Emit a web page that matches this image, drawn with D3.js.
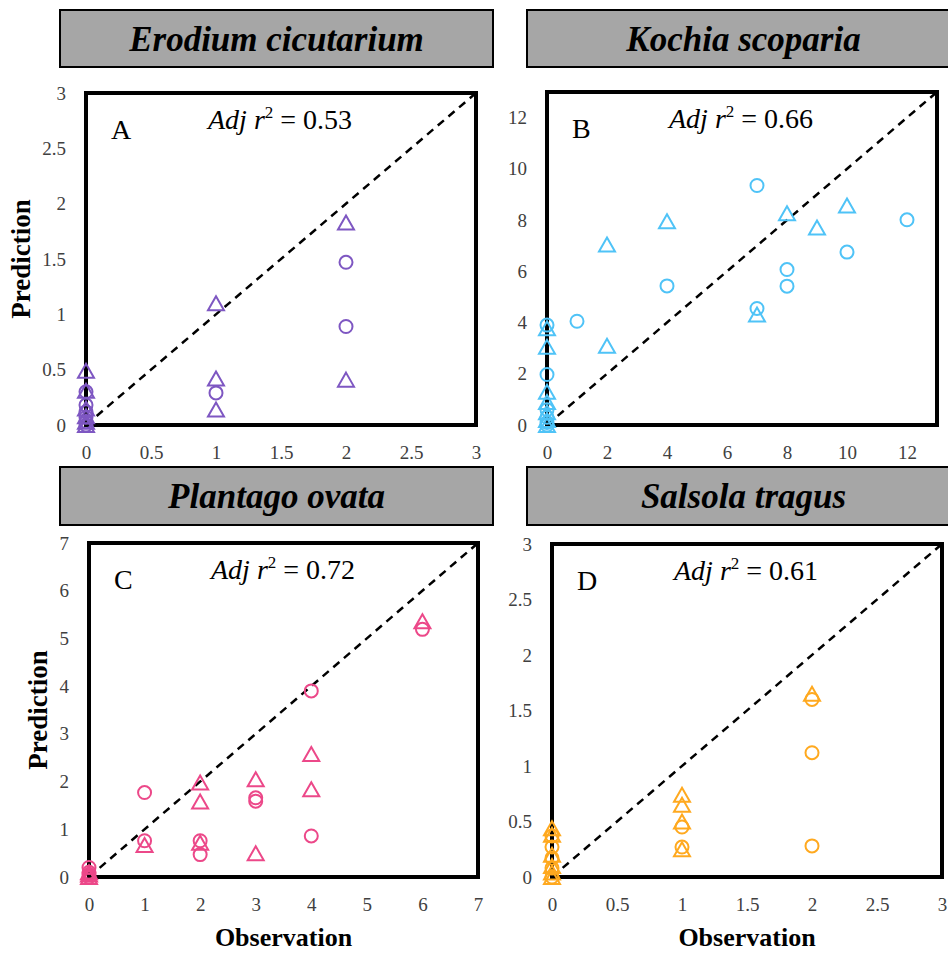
<!DOCTYPE html>
<html>
<head>
<meta charset="utf-8">
<script src="https://cdn.jsdelivr.net/npm/d3@7"></script>
<style>
  body { margin: 0; background: #fff; }
  svg { display: block; }
</style>
</head>
<body>
<svg id="chart" width="948" height="955"></svg>
<script>
// observed vs predicted, [observation, prediction]
var erodiumCircles = [[2, 1.47], [2, 0.89], [1, 0.29], [0, 0.30], [0, 0.18], [0, 0.12], [0, 0.07], [0, 0.03], [0, 0]]
var erodiumTriangles = [[2, 1.83], [2, 0.41], [1, 1.10], [1, 0.42], [1, 0.14], [0, 0.49], [0, 0.31], [0, 0.15], [0, 0.08], [0, 0.03], [0, 0]]

var kochiaCircles = [[7, 9.35], [12, 8.01], [10, 6.75], [8, 6.07], [8, 5.42], [4, 5.43], [7, 4.55], [1, 4.05],
                     [0, 3.9], [0, 1.97], [0, 0.6], [0, 0.3], [0, 0.1], [0, 0]]
var kochiaTriangles = [[4, 7.95], [2, 7.05], [8, 8.27], [10, 8.57], [9, 7.71], [7, 4.31], [2, 3.09],
                       [0, 3.78], [0, 3.05], [0, 1.3], [0, 0.9], [0, 0.5], [0, 0.2], [0, 0]]

var plantagoCircles = [[6, 5.19], [4, 3.9], [4, 0.86], [3, 1.66], [3, 1.59], [2, 0.76], [2, 0.47], [1, 1.77], [1, 0.76],
                       [0, 0.2], [0, 0.1], [0, 0.05], [0, 0]]
var plantagoTriangles = [[6, 5.36], [4, 2.58], [4, 1.84], [3, 2.05], [3, 0.5], [2, 1.98], [2, 1.58], [2, 0.72], [1, 0.67],
                         [0, 0.1], [0, 0.05], [0, 0]]

var salsolaCircles = [[2, 1.60], [2, 1.12], [2, 0.28], [1, 0.45], [1, 0.27], [0, 0.37], [0, 0.27], [0, 0.17], [0, 0.08], [0, 0]]
var salsolaTriangles = [[2, 1.65], [1, 0.74], [1, 0.65], [1, 0.50], [1, 0.25], [0, 0.44], [0, 0.38], [0, 0.2], [0, 0.1], [0, 0.04], [0, 0]]

var speciesNames = ["Erodium cicutarium", "Kochia scoparia", "Plantago ovata", "Salsola tragus"]
var panelLetters = ["A", "B", "C", "D"]
var adjR2 = ["0.53", "0.66", "0.72", "0.61"]
var axisMax = [3, 13, 7, 3]
var tickValues = [
  [0, 0.5, 1, 1.5, 2, 2.5, 3],
  [0, 2, 4, 6, 8, 10, 12],
  [0, 1, 2, 3, 4, 5, 6, 7],
  [0, 0.5, 1, 1.5, 2, 2.5, 3]
]
var colors = ["#7e57c2", "#4fc3f7", "#ec4889", "#ffa91f"]

// layout of each panel (frame box, title box)
var panels = [
  {left: 86, top: 93, right: 476, bottom: 425, tx: 60, ty: 10, tw: 433, th: 57, yLabelX: 21, xLabel: false},
  {left: 547, top: 92, right: 937, bottom: 425, tx: 527, ty: 10, tw: 433, th: 57, yLabelX: null, xLabel: false},
  {left: 89, top: 543, right: 478, bottom: 877, tx: 60, ty: 467, tw: 433, th: 58, yLabelX: 38, xLabel: true},
  {left: 552, top: 544, right: 942, bottom: 877, tx: 527, ty: 467, tw: 433, th: 58, yLabelX: null, xLabel: true}
]
var circleSets = [erodiumCircles, kochiaCircles, plantagoCircles, salsolaCircles]
var triangleSets = [erodiumTriangles, kochiaTriangles, plantagoTriangles, salsolaTriangles]

var serif = "'Liberation Serif', 'DejaVu Serif', serif"
var svg = d3.select("#chart")

panels.forEach(function (p, i) {
  var g = svg.append("g")

  // title box
  g.append("rect").attr("x", p.tx).attr("y", p.ty).attr("width", p.tw).attr("height", p.th)
    .attr("fill", "#a6a6a6").attr("stroke", "#000").attr("stroke-width", 2)
  g.append("text").attr("x", p.tx + 216.5).attr("y", p.ty + p.th / 2 + 12)
    .attr("text-anchor", "middle").attr("font-family", serif)
    .attr("font-size", 35).attr("font-weight", "bold").attr("font-style", "italic")
    .text(speciesNames[i])

  var x = d3.scaleLinear().domain([0, axisMax[i]]).range([p.left, p.right])
  var y = d3.scaleLinear().domain([0, axisMax[i]]).range([p.bottom, p.top])

  // axes, ticks only as labels
  var fmt = d3.format("")
  var ya = g.append("g").attr("transform", "translate(" + p.left + ",0)")
    .call(d3.axisLeft(y).tickValues(tickValues[i]).tickSize(0).tickPadding(20).tickFormat(fmt))
  var xa = g.append("g").attr("transform", "translate(0," + p.bottom + ")")
    .call(d3.axisBottom(x).tickValues(tickValues[i]).tickSize(0).tickPadding(21).tickFormat(fmt))
  ;[ya, xa].forEach(function (a) {
    a.select(".domain").remove()
    a.selectAll("text").attr("font-family", serif).attr("font-size", 19).attr("fill", "#404040")
  })

  // frame
  g.append("rect").attr("x", p.left).attr("y", p.top)
    .attr("width", p.right - p.left).attr("height", p.bottom - p.top)
    .attr("fill", "none").attr("stroke", "#000").attr("stroke-width", 4)

  // 1:1 line
  g.append("line")
    .attr("x1", x(0)).attr("y1", y(0)).attr("x2", x(axisMax[i])).attr("y2", y(axisMax[i]))
    .attr("stroke", "#000").attr("stroke-width", 2.5).attr("stroke-dasharray", "8,6")

  // points
  g.selectAll(".tri").data(triangleSets[i]).enter().append("path")
    .attr("class", "tri")
    .attr("d", "M0,-7L8,7L-8,7Z")
    .attr("transform", function (d) { return "translate(" + x(d[0]) + "," + y(d[1]) + ")" })
    .attr("fill", "none").attr("stroke", colors[i]).attr("stroke-width", 2)
  g.selectAll(".dot").data(circleSets[i]).enter().append("circle")
    .attr("class", "dot")
    .attr("cx", function (d) { return x(d[0]) })
    .attr("cy", function (d) { return y(d[1]) })
    .attr("r", 6.5)
    .attr("fill", "none").attr("stroke", colors[i]).attr("stroke-width", 2)

  // panel letter and r2
  g.append("text").attr("x", p.left + 25).attr("y", p.top + 46)
    .attr("font-family", serif).attr("font-size", 28).text(panelLetters[i])
  var r2 = g.append("text").attr("x", p.left + 122).attr("y", p.top + 36)
    .attr("font-family", serif).attr("font-size", 28)
  r2.append("tspan").attr("font-style", "italic").text("Adj r")
  r2.append("tspan").attr("font-size", 17).attr("dy", -11).text("2")
  r2.append("tspan").attr("dy", 11).text(" = " + adjR2[i])

  // axis titles
  if (p.yLabelX !== null) {
    g.append("text")
      .attr("transform", "translate(" + p.yLabelX + "," + (p.top + p.bottom) / 2 + ") rotate(-90)")
      .attr("text-anchor", "middle").attr("dominant-baseline", "central")
      .attr("font-family", serif).attr("font-size", 27).attr("font-weight", "bold")
      .text("Prediction")
  }
  if (p.xLabel) {
    g.append("text").attr("x", (p.left + p.right) / 2).attr("y", 946)
      .attr("text-anchor", "middle")
      .attr("font-family", serif).attr("font-size", 26).attr("font-weight", "bold")
      .text("Observation")
  }
})
</script>
</body>
</html>
